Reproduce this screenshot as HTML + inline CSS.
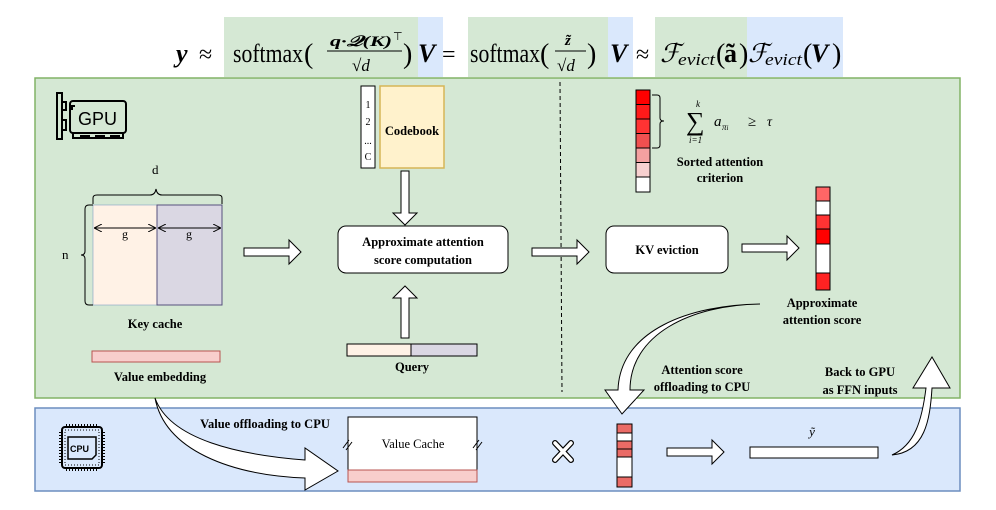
<!DOCTYPE html>
<html><head><meta charset="utf-8"><style>
html,body{margin:0;padding:0;background:#fff;}
svg{display:block;}
text{font-family:"Liberation Serif",serif;}
.b{font-weight:bold;font-size:12.5px;}
</style></head><body>
<svg width="996" height="510" viewBox="0 0 996 510" xmlns="http://www.w3.org/2000/svg">
<defs>
<marker id="ah" markerWidth="8" markerHeight="8" refX="7" refY="4" orient="auto" markerUnits="userSpaceOnUse"><path d="M0,0 L8,4 L0,8" fill="none" stroke="#000" stroke-width="1"/></marker>
<marker id="ahs" markerWidth="8" markerHeight="8" refX="1" refY="4" orient="auto" markerUnits="userSpaceOnUse"><path d="M8,0 L0,4 L8,8" fill="none" stroke="#000" stroke-width="1"/></marker>
</defs>
<!-- formula highlights -->
<rect x="224" y="17" width="194" height="60" fill="#d5e8d4"/>
<rect x="418" y="17" width="25" height="60" fill="#dae8fc"/>
<rect x="468" y="17" width="140" height="60" fill="#d5e8d4"/>
<rect x="608" y="17" width="25" height="60" fill="#dae8fc"/>
<rect x="655" y="17" width="92" height="60" fill="#d5e8d4"/>
<rect x="747" y="17" width="96" height="60" fill="#dae8fc"/>
<g font-size="26">
<text x="176" y="62" font-style="italic" font-weight="bold">y</text>
<text x="199" y="62" font-size="24">≈</text>
<text x="233" y="62" textLength="70" lengthAdjust="spacingAndGlyphs">softmax</text>
<text x="304" y="63" font-size="28">(</text>
<text x="330" y="46" font-size="15" font-style="italic" font-weight="bold" textLength="62" lengthAdjust="spacingAndGlyphs">q·𝒬(K)</text>
<text x="393" y="40" font-size="11">⊤</text>
<line x1="327" y1="51" x2="402" y2="51" stroke="#000" stroke-width="1"/>
<text x="352" y="71" font-size="17">√<tspan font-style="italic">d</tspan></text>
<text x="403" y="63" font-size="28">)</text>
<text x="418" y="62" font-style="italic" font-weight="bold">V</text>
<text x="442" y="62" font-size="24">=</text>
<text x="470" y="62" textLength="70" lengthAdjust="spacingAndGlyphs">softmax</text>
<text x="540" y="63" font-size="28">(</text>
<text x="565" y="45" font-size="15" font-style="italic" font-weight="bold">z̃</text>
<line x1="555" y1="51" x2="586" y2="51" stroke="#000" stroke-width="1"/>
<text x="557" y="71" font-size="17">√<tspan font-style="italic">d</tspan></text>
<text x="587" y="63" font-size="28">)</text>
<text x="610" y="62" font-style="italic" font-weight="bold">V</text>
<text x="636" y="62" font-size="24">≈</text>
<text x="660" y="62" font-style="italic">ℱ</text>
<text x="678" y="65" font-size="17" font-style="italic" textLength="37" lengthAdjust="spacingAndGlyphs">evict</text>
<text x="716" y="63" font-size="28">(</text>
<text x="724" y="62" font-weight="bold">ã</text>
<text x="739" y="63" font-size="28">)</text>
<text x="748" y="62" font-style="italic">ℱ</text>
<text x="765" y="65" font-size="17" font-style="italic" textLength="37" lengthAdjust="spacingAndGlyphs">evict</text>
<text x="803" y="63" font-size="28">(</text>
<text x="811" y="62" font-style="italic" font-weight="bold">V</text>
<text x="832" y="63" font-size="28">)</text>
</g>
<!-- panels -->
<rect x="35" y="78" width="925" height="320" fill="#d5e8d4" stroke="#82b366" stroke-width="1.5"/>
<rect x="35" y="408" width="925" height="83" fill="#dae8fc" stroke="#6c8ebf" stroke-width="1.5"/>
<line x1="560" y1="82" x2="562" y2="392" stroke="#000" stroke-dasharray="4,3"/>
<!-- GPU icon -->
<g fill="none" stroke="#000" stroke-width="2">
<path d="M57,93 h5 v46 h-5 z"/><path d="M62,102 h4 v8 h-4 M62,120 h4 v10 h-4"/>
<rect x="70" y="101" width="56" height="32" rx="3"/>
<path d="M73,133 v5 h50 v-5 M80,136 h10 M95,136 h10 M110,136 h10"/>
<path d="M72,110 v-4 h3"/>
</g>
<text x="78" y="125" font-size="18" style="font-family:'Liberation Sans',sans-serif">GPU</text>
<!-- key cache -->
<text x="152" y="174" font-size="13">d</text>
<path d="M93,204 v-6 q0,-3 4,-3 h53 q5,0 6,-6 q1,6 6,6 h56 q4,0 4,3 v6" fill="none" stroke="#000"/>
<rect x="93" y="205" width="64" height="100" fill="#fff2e6" stroke="#6c8ebf" stroke-width="0.5"/>
<rect x="157" y="205" width="65" height="100" fill="#dad7e3" stroke="#56517e" stroke-width="1"/>
<line x1="95" y1="228" x2="155" y2="228" stroke="#000" marker-end="url(#ah)" marker-start="url(#ahs)"/>
<line x1="159" y1="228" x2="220" y2="228" stroke="#000" marker-end="url(#ah)" marker-start="url(#ahs)"/>
<text x="122" y="238" font-size="12">g</text><text x="186" y="238" font-size="12">g</text>
<path d="M93,205 h-4 q-4,0 -4,4 v42 q0,4 -4,4 q4,0 4,4 v42 q0,4 4,4 h4" fill="none" stroke="#000"/>
<text x="62" y="259" font-size="13">n</text>
<text x="155" y="328" class="b" text-anchor="middle">Key cache</text>
<rect x="92" y="351" width="128" height="11" fill="#f8cecc" stroke="#b85450"/>
<text x="160" y="381" class="b" text-anchor="middle">Value embedding</text>
<!-- arrows (block) -->
<g fill="#fff" stroke="#000" stroke-width="1">
<path d="M244,248 h45 v-8 l12,12 l-12,12 v-8 h-45 z"/>
<path d="M532,248 h45 v-8 l12,12 l-12,12 v-8 h-45 z"/>
<path d="M742,244 h45 v-8 l12,12 l-12,12 v-8 h-45 z"/>
<path d="M667,448 h45 v-8 l12,12 l-12,12 v-8 h-45 z"/>
<path d="M401,171 h8 v42 h8 l-12,12 l-12,-12 h8 z"/>
<path d="M401,338 h8 v-40 h8 l-12,-12 l-12,12 h8 z"/>
</g>
<!-- codebook -->
<rect x="361" y="86" width="14" height="82" fill="#fff" stroke="#000"/>
<g font-size="10" text-anchor="middle"><text x="368" y="108">1</text><text x="368" y="125">2</text><text x="368" y="144">...</text><text x="368" y="160">C</text></g>
<rect x="380" y="86" width="64" height="82" fill="#fff2cc" stroke="#d6b656" stroke-width="1.5"/>
<text x="412" y="135" class="b" text-anchor="middle">Codebook</text>
<rect x="338" y="226" width="170" height="47" rx="8" fill="#fff" stroke="#000"/>
<text x="423" y="246" class="b" text-anchor="middle">Approximate attention</text>
<text x="423" y="264" class="b" text-anchor="middle">score computation</text>
<rect x="347" y="344" width="64" height="12" fill="#fff2e6" stroke="#000"/>
<rect x="411" y="344" width="66" height="12" fill="#dad7e3" stroke="#000"/>
<text x="412" y="371" class="b" text-anchor="middle">Query</text>
<!-- KV eviction -->
<rect x="606" y="226" width="122" height="47" rx="8" fill="#fff" stroke="#000"/>
<text x="667" y="254" class="b" text-anchor="middle">KV eviction</text>
<!-- sorted vector -->
<g stroke="#000" stroke-width="1">
<rect x="636" y="90" width="14" height="14.5" fill="#ff0000"/>
<rect x="636" y="104.5" width="14" height="14.5" fill="#ff1a1a"/>
<rect x="636" y="119" width="14" height="14.5" fill="#ff3333"/>
<rect x="636" y="133.5" width="14" height="14.5" fill="#f05050"/>
<rect x="636" y="148" width="14" height="14.5" fill="#f4a0a0"/>
<rect x="636" y="162.5" width="14" height="14.5" fill="#f8d0d0"/>
<rect x="636" y="177" width="14" height="15" fill="#fff"/>
</g>
<path d="M652,95 h5 q3,0 3,3 v20 q0,3 4,3 q-4,0 -4,3 v21 q0,3 -3,3 h-5" fill="none" stroke="#000"/>
<g font-style="italic">
<text x="686" y="130" font-size="26" font-style="normal">∑</text>
<text x="696" y="107" font-size="9">k</text>
<text x="689" y="143" font-size="9">i=1</text>
<text x="714" y="126" font-size="15">a</text><text x="722" y="130" font-size="9">π<tspan font-size="7">i</tspan></text>
<text x="748" y="126" font-size="15" font-style="normal">≥</text>
<text x="767" y="126" font-size="14">τ</text>
</g>
<text x="720" y="166" class="b" text-anchor="middle">Sorted attention</text>
<text x="720" y="182" class="b" text-anchor="middle">criterion</text>
<!-- approx vector -->
<g stroke="#000" stroke-width="1">
<rect x="816" y="187" width="14" height="14" fill="#ff6666"/>
<rect x="816" y="201" width="14" height="14" fill="#fff"/>
<rect x="816" y="215" width="14" height="14" fill="#ff3333"/>
<rect x="816" y="229" width="14" height="15" fill="#ff0000"/>
<rect x="816" y="244" width="14" height="29" fill="#fff"/>
<rect x="816" y="273" width="14" height="17" fill="#ff2222"/>
</g>
<text x="822" y="307" class="b" text-anchor="middle">Approximate</text>
<text x="822" y="324" class="b" text-anchor="middle">attention score</text>
<text x="702" y="374" class="b" text-anchor="middle">Attention score</text>
<text x="702" y="391" class="b" text-anchor="middle">offloading to CPU</text>
<text x="860" y="376" class="b" text-anchor="middle">Back to GPU</text>
<text x="860" y="394" class="b" text-anchor="middle">as FFN inputs</text>
<!-- curved arrow down to cpu vector -->
<path d="M760,304 C690,305 630,335 630,390 L644,390 L622,414 L605,390 L618,390 C620,330 690,305 760,304 z" fill="#fff" stroke="#000"/>
<!-- back to gpu arrow -->
<path d="M892,455 C925,452 930,420 932,388 L950,388 L932,357 L913,388 L926,388 C922,420 915,445 892,455 z" fill="#fff" stroke="#000"/>
<!-- CPU icon -->
<g fill="none" stroke="#000">
<rect x="62" y="427" width="40" height="41" rx="3" stroke-width="2"/>
<rect x="65" y="430" width="34" height="35" stroke-dasharray="1,2"/>
<path d="M68,437 h28 v18 l-4,4 h-24 z" stroke-width="1.5"/>
<path d="M60,432 v32 M104,432 v32 M66,425 h32 M66,470 h32" stroke-dasharray="1,2" stroke-width="2"/>
</g>
<text x="70" y="452" font-size="9" font-weight="bold" style="font-family:'Liberation Sans',sans-serif">CPU</text>
<text x="265" y="428" class="b" text-anchor="middle">Value offloading to CPU</text>
<!-- value offloading curve -->
<path d="M155,398 C170,440 240,455 305,460 L305,448 L338,471 L305,490 L305,478 C230,475 165,450 155,398 z" fill="#fff" stroke="#000"/>
<rect x="348" y="417" width="129" height="53" fill="#fff" stroke="#000"/>
<rect x="348" y="470" width="129" height="12" fill="#f8cecc" stroke="#b85450"/>
<text x="413" y="448" font-size="12.5" text-anchor="middle">Value Cache</text>
<path d="M343,448 l6,-8 M346,450 l6,-8 M473,448 l6,-8 M476,450 l6,-8" stroke="#000"/>
<path d="M555,443 L571,460 M571,443 L555,460" stroke="#000" stroke-width="6" stroke-linecap="round"/>
<path d="M555,443 L571,460 M571,443 L555,460" stroke="#fff" stroke-width="3.5" stroke-linecap="round"/>
<g stroke="#000">
<rect x="617" y="424" width="15" height="9" fill="#ea6b66"/>
<rect x="617" y="433" width="15" height="8" fill="#fff"/>
<rect x="617" y="441" width="15" height="8" fill="#ea6b66"/>
<rect x="617" y="449" width="15" height="8" fill="#ea6b66"/>
<rect x="617" y="457" width="15" height="20" fill="#fff"/>
<rect x="617" y="477" width="15" height="10" fill="#ea6b66"/>
</g>
<rect x="750" y="447" width="128" height="11" fill="#fff" stroke="#000"/>
<text x="812" y="436" font-size="13" font-style="italic" text-anchor="middle">ỹ</text>
</svg>
</body></html>
